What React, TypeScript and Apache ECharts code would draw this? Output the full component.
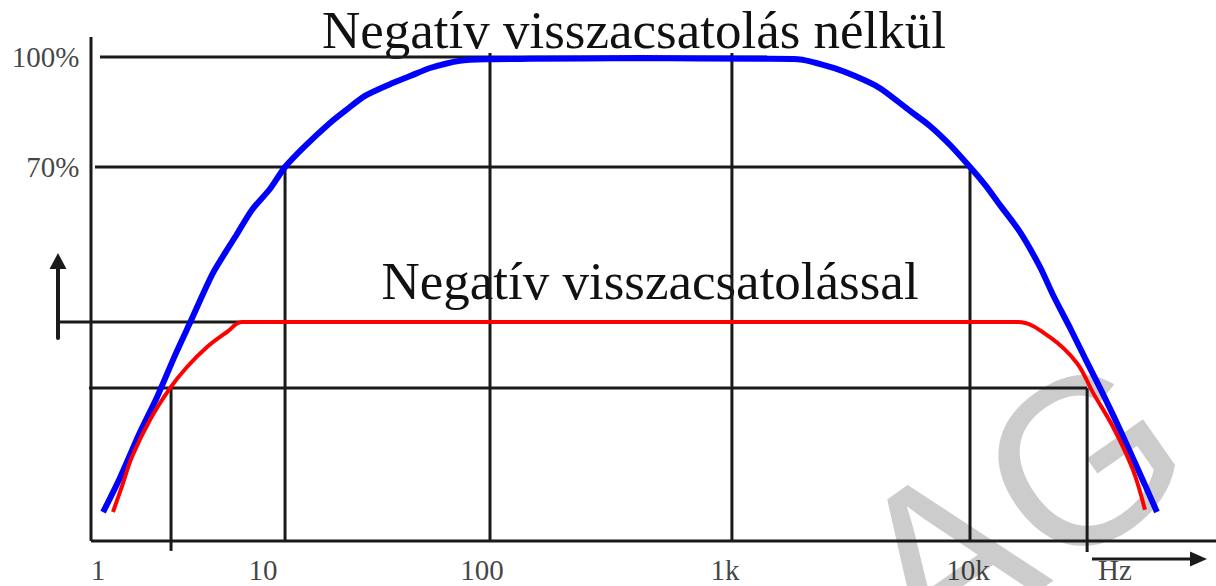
import React, { useEffect, useRef } from "react";
import * as echarts from "echarts";

// x in decades (log10 Hz, schematic), y in percent of the max gain
const blueX = [0.388, 0.458, 0.542, 0.613, 0.688, 0.75, 0.846, 0.938, 1.008, 1.083, 1.146, 1.229, 1.333, 1.396, 1.479, 1.583, 1.667, 1.75, 1.875, 2, 2.167, 2.625, 3.125, 3.283, 3.417, 3.521, 3.625, 3.75, 3.833, 3.917, 4, 4.063, 4.125, 4.208, 4.292, 4.346, 4.417, 4.479, 4.542, 4.596, 4.667, 4.729, 4.779];
const blueY = [-24.1, -14.8, -2.3, 7.3, 18.7, 27.5, 41.1, 50.9, 58.3, 64, 70, 75.7, 82, 85.3, 89.4, 92.6, 94.8, 97, 99.0, 99.4, 99.5, 99.7, 99.5, 99.4, 97.3, 94.8, 91.5, 85.3, 81.2, 76, 70, 65.1, 59.6, 52.3, 42.7, 35.1, 26.1, 17.9, 9.7, 2.4, -7.7, -16.7, -24.1];

const redX = [0.429, 0.467, 0.508, 0.583, 0.667, 0.7375, 0.821, 0.904, 0.967, 4.2, 4.333, 4.446, 4.513, 4.596, 4.679, 4.729];
const redY = [-24.1, -17.0, -9.1, 1.0, 9.7, 15.45, 20.9, 25.0, 27.7, 27.7, 23.6, 16.5, 8.4, -0.9, -12.6, -23.5];

// reference lines
const hLineY = [100, 70, 27.7, 9.7, -32];
const hLineFrom = [0.375, 0.354, 0.208, 0.329, 0.3375];
const hLineTo = [3.154, 4.004, 4.2, 4.488, 5.025];
const vLineX = [0.3375, 0.671, 1.146, 2, 3.008, 4, 4.488];
const vLineFrom = [-32, -34.7, -32, -32, -32, -32, -35];
const vLineTo = [105.45, 9.7, 70, 101.1, 101.1, 70, 9.7];

// tick labels
const xTickLabels = ["1", "10", "100", "1k", "10k", "Hz"];
const xTickPos = [0.367, 1.054, 1.967, 2.979, 3.992, 4.604];
const xTickLevel = -39.9;
const yTickLabels = ["100%", "70%"];
const yTickPos = [100, 70];
const yTickAt = 0.2917;

const titleTop = "Negatív visszacsatolás nélkül";
const titleMid = "Negatív visszacsatolással";

const SERIF = "'Liberation Serif', 'Times New Roman', serif";
const INK = "#1a1a1a";
const TXT = "#111111";

export default function App() {
  const ref = useRef<HTMLDivElement>(null);
  useEffect(() => {
    const chart = echarts.init(ref.current!, null, { renderer: "svg" });
    const lineSeries: any[] = [];
    hLineY.forEach((y, i) => {
      lineSeries.push({
        type: "line",
        data: [[hLineFrom[i], y], [hLineTo[i], y]],
        symbol: "none",
        silent: true,
        z: 2,
        lineStyle: { color: INK, width: 3 },
      });
    });
    vLineX.forEach((x, i) => {
      lineSeries.push({
        type: "line",
        data: [[x, vLineFrom[i]], [x, vLineTo[i]]],
        symbol: "none",
        silent: true,
        z: 2,
        lineStyle: { color: INK, width: 3 },
      });
    });
    const option: any = {
      animation: false,
      backgroundColor: "#ffffff",
      grid: { left: 0, right: 0, top: 0, bottom: 0 },
      xAxis: { type: "value", min: -10 / 240, max: 1206 / 240, show: false },
      yAxis: { type: "value", min: 100 - (529 * 3) / 11, max: 100 + (57 * 3) / 11, show: false },
      graphic: [
        {
          type: "text",
          x: 1018,
          y: 506,
          rotation: 0.61,
          z: 0,
          silent: true,
          style: {
            text: "AG",
            fontSize: 235,
            fontFamily: "'Liberation Sans', Arial, sans-serif",
            fill: "#cccccc",
            align: "center",
            verticalAlign: "middle",
          },
        },
        {
          type: "text",
          x: 634,
          y: 30,
          z: 1,
          style: { text: titleTop, fontSize: 53, fontFamily: SERIF, fill: TXT, align: "center", verticalAlign: "middle" },
        },
        {
          type: "text",
          x: 650,
          y: 281,
          z: 1,
          style: { text: titleMid, fontSize: 53, fontFamily: SERIF, fill: TXT, align: "center", verticalAlign: "middle" },
        },
        {
          type: "line",
          z: 50,
          shape: { x1: 58, y1: 338, x2: 58, y2: 266 },
          style: { stroke: INK, lineWidth: 4, lineCap: "round" },
        },
        {
          type: "polygon",
          z: 50,
          shape: { points: [[58, 253], [49.5, 269], [66.5, 269]] },
          style: { fill: INK },
        },
        {
          type: "line",
          z: 50,
          shape: { x1: 1092, y1: 559, x2: 1194, y2: 559 },
          style: { stroke: INK, lineWidth: 3 },
        },
        {
          type: "polygon",
          z: 50,
          shape: { points: [[1207, 559], [1190, 551.5], [1190, 566.5]] },
          style: { fill: INK },
        },
      ],
      series: [
        ...lineSeries,
        {
          type: "line",
          name: "Negatív visszacsatolás nélkül",
          data: blueX.map((x, i) => [x, blueY[i]]),
          symbol: "none",
          smooth: 0.25,
          z: 5,
          lineStyle: { color: "#0000ff", width: 6 },
        },
        {
          type: "line",
          name: "Negatív visszacsatolással",
          data: redX.map((x, i) => [x, redY[i]]),
          symbol: "none",
          smooth: 0.35,
          z: 6,
          lineStyle: { color: "#ff0000", width: 4 },
        },
        {
          type: "scatter",
          data: xTickLabels.map((t, i) => ({ name: t, value: [xTickPos[i], xTickLevel] })),
          symbolSize: 1,
          itemStyle: { color: "rgba(0,0,0,0)" },
          silent: true,
          z: 10,
          label: { show: true, position: "inside", formatter: "{b}", fontSize: 29, fontFamily: SERIF, color: TXT },
        },
        {
          type: "scatter",
          data: yTickLabels.map((t, i) => ({ name: t, value: [yTickAt, yTickPos[i]] })),
          symbolSize: 1,
          itemStyle: { color: "rgba(0,0,0,0)" },
          silent: true,
          z: 10,
          label: { show: true, position: "left", distance: 0, formatter: "{b}", fontSize: 29, fontFamily: SERIF, color: TXT },
        },
      ],
    };
    chart.setOption(option);
    return () => chart.dispose();
  }, []);
  return (
    <div
      ref={ref}
      style={{ position: "fixed", left: 0, top: 0, width: 1216, height: 586, background: "#fff" }}
    />
  );
}
